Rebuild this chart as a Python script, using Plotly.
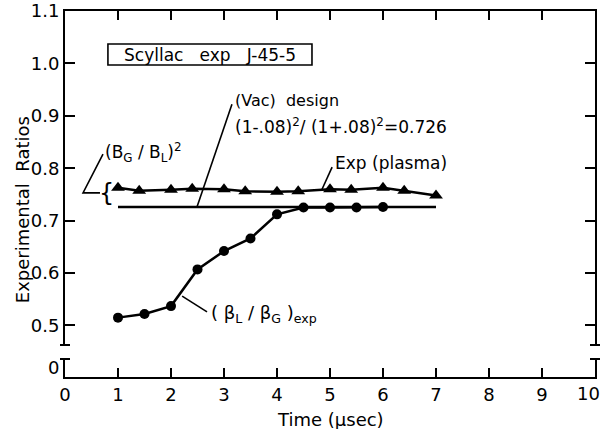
import plotly.graph_objects as go

# ---- data -------------------------------------------------------------
# (B_G/B_L)^2, Exp (plasma) -- triangles
t_plasma = [1.0, 1.4, 2.0, 2.4, 3.0, 3.4, 4.0, 4.4, 5.0, 5.4, 6.0, 6.4, 7.0]
ratio_plasma = [0.763, 0.757, 0.759, 0.761, 0.760, 0.756, 0.755, 0.756,
                0.760, 0.759, 0.763, 0.757, 0.748]

# (beta_L/beta_G)_exp -- circles
t_beta = [1.0, 1.5, 2.0, 2.5, 3.0, 3.5, 4.0, 4.5, 5.0, 5.5, 6.0]
ratio_beta = [0.515, 0.522, 0.537, 0.607, 0.642, 0.666, 0.712, 0.725,
              0.725, 0.725, 0.726]

# vacuum design value (1-.08)^2/(1+.08)^2
t_design = [1.0, 7.0]
ratio_design = [0.726, 0.726]

x_ticks = [0, 1, 2, 3, 4, 5, 6, 7, 8, 9, 10]
y_ticks = [0.5, 0.6, 0.7, 0.8, 0.9, 1.0, 1.1]

FONT = "DejaVu Sans"
INK = "black"

# the last time label sits against the page edge, so it is drawn on its own
x_ticktext = [str(v) for v in x_ticks]
x_ticktext[-1] = ""

fig = go.Figure()

fig.add_trace(go.Scatter(
    x=t_design, y=ratio_design, mode="lines",
    line=dict(color=INK, width=2.5), xaxis="x2", yaxis="y",
    showlegend=False, hoverinfo="skip"))

fig.add_trace(go.Scatter(
    x=t_plasma, y=ratio_plasma, mode="lines+markers",
    line=dict(color=INK, width=2.5),
    marker=dict(symbol="triangle-up", size=12, color=INK),
    xaxis="x2", yaxis="y", showlegend=False))

fig.add_trace(go.Scatter(
    x=t_beta, y=ratio_beta, mode="lines+markers",
    line=dict(color=INK, width=2.5),
    marker=dict(symbol="circle", size=10, color=INK),
    xaxis="x2", yaxis="y", showlegend=False))

# empty trace so the lower (zero) strip and the time axis are built
fig.add_trace(go.Scatter(
    x=[None], y=[None], mode="lines", xaxis="x", yaxis="y2",
    showlegend=False, hoverinfo="skip"))

# leader lines from the labels to the curves
leaders = [
    ([3.15, 2.49], [0.922, 0.726]),          # (Vac) design
    ([0.717, 0.34, 0.66], [0.827, 0.753, 0.753]),  # (B_G/B_L)^2
    ([5.04, 4.85], [0.802, 0.760]),          # Exp (plasma)
    ([2.21, 2.68], [0.556, 0.526]),          # (beta_L/beta_G)_exp
]
for lx, ly in leaders:
    fig.add_trace(go.Scatter(
        x=lx, y=ly, mode="lines", line=dict(color=INK, width=1.6),
        xaxis="x2", yaxis="y", showlegend=False, hoverinfo="skip"))

axis_common = dict(
    showline=True, linecolor=INK, linewidth=2,
    showgrid=False, zeroline=False,
    tickcolor=INK, tickwidth=2,
    tickfont=dict(family=FONT, size=18, color=INK),
)

top_frac = 32 / 366      # bottom of the upper (0.46-1.1) segment
low_frac = 18 / 366      # height of the lower segment holding 0

fig.update_layout(
    width=604, height=429,
    margin=dict(l=65, r=9, t=11, b=52, autoexpand=False),
    paper_bgcolor="white", plot_bgcolor="white",
    font=dict(family=FONT, color=INK),
    xaxis=dict(
        **axis_common, domain=[0, 1], anchor="y2", range=[0, 10],
        tickvals=x_ticks, ticktext=x_ticktext,
        ticks="inside", ticklen=9),
    xaxis2=dict(
        **axis_common, matches="x", anchor="y", side="top",
        tickvals=x_ticks, ticks="inside", ticklen=9,
        showticklabels=False),
    yaxis=dict(
        **axis_common, domain=[top_frac, 1], anchor="x2",
        range=[0.5 - (345 - 325.5) / 524, 1.1],
        tickvals=y_ticks, tickformat=".1f",
        ticks="inside", ticklen=10, mirror="ticks"),
    yaxis2=dict(
        **axis_common, domain=[0, low_frac], anchor="x",
        range=[-1, 1], tickvals=[0], ticktext=["0"],
        ticks="", mirror=True),
)

# "10" at the right end of the time axis
fig.add_annotation(
    x=x_ticks[-1], y=0, xref="x", yref="y2 domain",
    xanchor="right", yanchor="middle", xshift=7, yshift=-16,
    text=str(x_ticks[-1]), showarrow=False,
    font=dict(family=FONT, size=18, color=INK))

# caps at the axis break
for xa in (0, 1):
    for yref, yv in (("y domain", 0), ("y2 domain", 1)):
        fig.add_shape(
            type="line", xref="paper", xsizemode="pixel", xanchor=xa,
            x0=-5, x1=5, yref=yref, y0=yv, y1=yv,
            line=dict(color=INK, width=2))

# run label in a frame
fig.add_shape(
    type="rect", xref="x2", yref="y", x0=0.81, x1=4.66, y0=0.997, y1=1.037,
    line=dict(color=INK, width=1.6), fillcolor="white", layer="below")
fig.add_annotation(
    x=2.74, y=1.017, xref="x2", yref="y", xanchor="center",
    yanchor="middle",
    text="Scyllac   exp   J-45-5", showarrow=False,
    font=dict(family=FONT, size=17, color=INK))

fig.add_annotation(
    x=3.17, y=0.930, xref="x2", yref="y", xanchor="left",
    text="(Vac)  design", showarrow=False,
    font=dict(family=FONT, size=16, color=INK))
fig.add_annotation(
    x=3.17, y=0.880, xref="x2", yref="y", xanchor="left",
    text="(1-.08)<sup>2</sup>/ (1+.08)<sup>2</sup>=0.726",
    showarrow=False, font=dict(family=FONT, size=17, color=INK))

fig.add_annotation(
    x=0.72, y=0.830, xref="x2", yref="y", xanchor="left",
    text="(B<sub>G</sub> / B<sub>L</sub>)<sup>2</sup>",
    showarrow=False, font=dict(family=FONT, size=17, color=INK))
fig.add_annotation(
    x=0.79, y=0.753, xref="x2", yref="y", xanchor="center",
    text="{", showarrow=False,
    font=dict(family=FONT, size=24, color=INK))

fig.add_annotation(
    x=5.06, y=0.810, xref="x2", yref="y", xanchor="left",
    text="Exp (plasma)", showarrow=False,
    font=dict(family=FONT, size=17, color=INK))

fig.add_annotation(
    x=2.72, y=0.521, xref="x2", yref="y", xanchor="left",
    text="( \u03b2<sub>L</sub> / \u03b2<sub>G</sub> )<sub>exp</sub>",
    showarrow=False, font=dict(family=FONT, size=18, color=INK))

# axis titles
fig.add_annotation(
    x=-0.081, y=0.456, xref="paper", yref="paper", textangle=-90,
    xanchor="center", yanchor="middle",
    text="Experimental  Ratios", showarrow=False,
    font=dict(family=FONT, size=18, color=INK))
fig.add_annotation(
    x=0.50, y=-0.116, xref="paper", yref="paper",
    xanchor="center", yanchor="middle",
    text="Time (\u03bcsec)", showarrow=False,
    font=dict(family=FONT, size=18, color=INK))

fig.write_html("out.html")
